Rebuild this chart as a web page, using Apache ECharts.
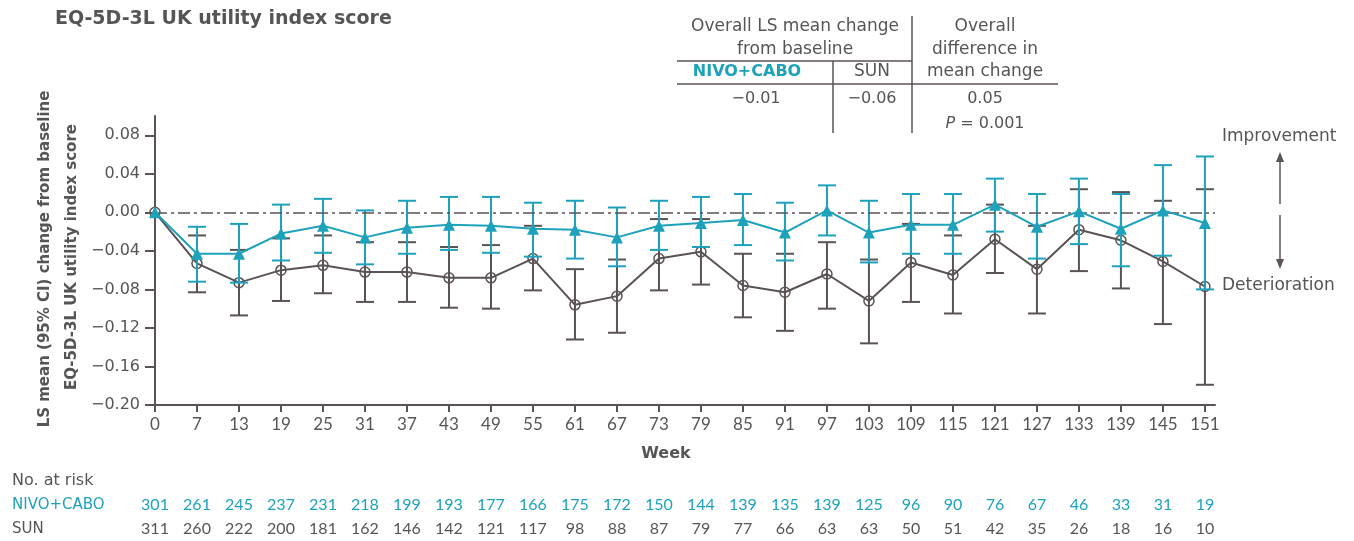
<!DOCTYPE html>
<html>
<head>
<meta charset="utf-8">
<script src="https://cdn.jsdelivr.net/npm/echarts@6/dist/echarts.min.js"></script>
<style>
html,body{margin:0;padding:0;background:#fff;}
#chart{width:1354px;height:541px;}
</style>
</head>
<body>
<div id="chart"></div>
<script>
// ---- data ----
const weeks = ['0','7','13','19','25','31','37','43','49','55','61','67','73','79','85','91','97','103','109','115','121','127','133','139','145','151'];
const nivoMean = [0,-0.043,-0.043,-0.022,-0.014,-0.026,-0.016,-0.013,-0.014,-0.017,-0.018,-0.026,-0.014,-0.011,-0.008,-0.021,0.002,-0.021,-0.013,-0.013,0.008,-0.015,0.001,-0.017,0.002,-0.011];
const nivoHigh = [0,-0.015,-0.012,0.008,0.014,0.002,0.012,0.016,0.016,0.010,0.012,0.005,0.012,0.016,0.019,0.010,0.028,0.012,0.019,0.019,0.035,0.019,0.035,0.019,0.049,0.058];
const nivoLow  = [0,-0.072,-0.073,-0.050,-0.042,-0.054,-0.043,-0.039,-0.042,-0.046,-0.048,-0.056,-0.039,-0.036,-0.034,-0.050,-0.024,-0.052,-0.043,-0.043,-0.020,-0.048,-0.033,-0.056,-0.045,-0.080];
const sunMean = [0,-0.053,-0.073,-0.060,-0.055,-0.062,-0.062,-0.068,-0.068,-0.048,-0.096,-0.087,-0.048,-0.041,-0.076,-0.083,-0.064,-0.092,-0.052,-0.065,-0.028,-0.059,-0.018,-0.029,-0.051,-0.077];
const sunHigh = [0,-0.024,-0.039,-0.027,-0.024,-0.031,-0.031,-0.036,-0.034,-0.014,-0.059,-0.049,-0.007,-0.007,-0.043,-0.043,-0.031,-0.049,-0.012,-0.024,0.008,-0.014,0.024,0.021,0.012,0.024];
const sunLow  = [0,-0.083,-0.107,-0.092,-0.084,-0.093,-0.093,-0.099,-0.100,-0.081,-0.132,-0.125,-0.081,-0.075,-0.109,-0.123,-0.100,-0.136,-0.093,-0.105,-0.063,-0.105,-0.061,-0.079,-0.116,-0.179];
const riskNivo = [301,261,245,237,231,218,199,193,177,166,175,172,150,144,139,135,139,125,96,90,76,67,46,33,31,19];
const riskSun  = [311,260,222,200,181,162,146,142,121,117,98,88,87,79,77,66,63,63,50,51,42,35,26,18,16,10];
const yTicks = [-0.20,-0.16,-0.12,-0.08,-0.04,0.00,0.04,0.08];

// ---- style ----
const TEAL = '#1ea2bc';
const GREY = '#5a5254';
const TXT = '#555555';
const WIDE = '"DejaVu Sans", Verdana, sans-serif';
const NUM = '"Liberation Sans Narrow", Lato, sans-serif';

const idx = weeks.map((w, i) => i);

function errBar(color) {
  return function (params, api) {
    const x = api.value(0), lo = api.value(1), hi = api.value(2);
    if (lo === hi) return null;
    const a = api.coord([x, lo]), b = api.coord([x, hi]);
    const h = 9;
    const st = { stroke: color, lineWidth: 2 };
    return {
      type: 'group',
      children: [
        { type: 'line', shape: { x1: a[0], y1: a[1], x2: b[0], y2: b[1] }, style: st },
        { type: 'line', shape: { x1: a[0] - h, y1: a[1], x2: a[0] + h, y2: a[1] }, style: st },
        { type: 'line', shape: { x1: b[0] - h, y1: b[1], x2: b[0] + h, y2: b[1] }, style: st }
      ]
    };
  };
}

const fmtY = v => (v < 0 ? '\u2212' : '') + Math.abs(v).toFixed(2);

const chart = echarts.init(document.getElementById('chart'));
const option = {
  animation: false,
  textStyle: { fontFamily: WIDE },
  grid: { left: 155, right: 139, top: 116, bottom: 136 },
  xAxis: [
    {
      type: 'value', min: 0, max: 25.24,
      axisLine: { onZero: false, lineStyle: { color: GREY, width: 2 } },
      axisTick: { customValues: idx, length: 7, lineStyle: { color: GREY, width: 2 } },
      axisLabel: { customValues: idx, formatter: v => weeks[v], fontSize: 17, fontFamily: NUM, color: TXT, margin: 11 },
      splitLine: { show: false },
      name: 'Week', nameLocation: 'middle', nameGap: 41,
      nameTextStyle: { fontSize: 16, fontWeight: 'bold', fontFamily: WIDE, color: TXT, padding: [0, 38, 0, 0] }
    },
    {
      type: 'value', min: 0, max: 25.24, position: 'bottom', offset: 80,
      axisLine: { show: false, onZero: false }, axisTick: { show: false }, splitLine: { show: false },
      axisLabel: { customValues: idx, formatter: v => String(riskNivo[v]), fontSize: 16, fontFamily: NUM, color: TEAL, margin: 12 }
    },
    {
      type: 'value', min: 0, max: 25.24, position: 'bottom', offset: 104,
      axisLine: { show: false, onZero: false }, axisTick: { show: false }, splitLine: { show: false },
      axisLabel: { customValues: idx, formatter: v => String(riskSun[v]), fontSize: 16, fontFamily: NUM, color: TXT, margin: 12 }
    }
  ],
  yAxis: {
    type: 'value', min: -0.2, max: 0.1,
    axisLine: { show: true, onZero: false, lineStyle: { color: GREY, width: 2 } },
    axisTick: { show: true, customValues: yTicks, length: 10, lineStyle: { color: GREY, width: 2 } },
    axisLabel: { customValues: yTicks, formatter: fmtY, fontSize: 16, fontFamily: WIDE, color: TXT, margin: 15 },
    splitLine: { show: false }
  },
  series: [
    {
      type: 'custom', name: 'SUN CI', xAxisIndex: 0,
      renderItem: errBar(GREY),
      data: sunLow.map((v, i) => [i, v, sunHigh[i]]),
      z: 2
    },
    {
      type: 'line', name: 'SUN', xAxisIndex: 0,
      data: sunMean.map((v, i) => [i, v]),
      symbol: 'circle', symbolSize: 10,
      lineStyle: { color: GREY, width: 2 },
      itemStyle: { color: 'rgba(255,255,255,0)', borderColor: GREY, borderWidth: 1.5 },
      z: 3,
      markLine: {
        silent: true, symbol: 'none', label: { show: false },
        lineStyle: { color: GREY, width: 1.5, type: [12, 4, 3, 4] },
        data: [{ yAxis: 0 }]
      }
    },
    {
      type: 'custom', name: 'NIVO+CABO CI', xAxisIndex: 0,
      renderItem: errBar(TEAL),
      data: nivoLow.map((v, i) => [i, v, nivoHigh[i]]),
      z: 4
    },
    {
      type: 'line', name: 'NIVO+CABO', xAxisIndex: 0,
      data: nivoMean.map((v, i) => [i, v]),
      symbol: 'triangle', symbolSize: 12,
      lineStyle: { color: TEAL, width: 2 },
      itemStyle: { color: TEAL },
      z: 5
    }
  ],
  graphic: [
    { type: 'text', left: 55, top: 10, style: { text: 'EQ-5D-3L UK utility index score', font: 'bold 19px ' + WIDE, fill: TXT } },
    { type: 'text', x: 45, y: 259, rotation: Math.PI / 2,
      style: { text: 'LS mean (95% CI) change from baseline', font: 'bold 15px ' + WIDE, fill: TXT, align: 'center', verticalAlign: 'middle' } },
    { type: 'text', x: 72, y: 257, rotation: Math.PI / 2,
      style: { text: 'EQ-5D-3L UK utility index score', font: 'bold 15px ' + WIDE, fill: TXT, align: 'center', verticalAlign: 'middle' } },
    // summary table lines
    { type: 'line', shape: { x1: 912, y1: 16, x2: 912, y2: 133 }, style: { stroke: GREY, lineWidth: 1.5 } },
    { type: 'line', shape: { x1: 833, y1: 61, x2: 833, y2: 133 }, style: { stroke: GREY, lineWidth: 1.5 } },
    { type: 'line', shape: { x1: 677, y1: 61, x2: 912, y2: 61 }, style: { stroke: GREY, lineWidth: 1.5 } },
    { type: 'line', shape: { x1: 677, y1: 84, x2: 1058, y2: 84 }, style: { stroke: GREY, lineWidth: 1.5 } },
    // summary table texts
    { type: 'text', x: 795, y: 27, style: { text: 'Overall LS mean change', font: '17px ' + WIDE, fill: TXT, align: 'center', verticalAlign: 'middle' } },
    { type: 'text', x: 795, y: 50, style: { text: 'from baseline', font: '17px ' + WIDE, fill: TXT, align: 'center', verticalAlign: 'middle' } },
    { type: 'text', x: 985, y: 27, style: { text: 'Overall', font: '17px ' + WIDE, fill: TXT, align: 'center', verticalAlign: 'middle' } },
    { type: 'text', x: 985, y: 50, style: { text: 'difference in', font: '17px ' + WIDE, fill: TXT, align: 'center', verticalAlign: 'middle' } },
    { type: 'text', x: 985, y: 72, style: { text: 'mean change', font: '17px ' + WIDE, fill: TXT, align: 'center', verticalAlign: 'middle' } },
    { type: 'text', x: 747, y: 72, style: { text: 'NIVO+CABO', font: 'bold 16px ' + WIDE, fill: TEAL, align: 'center', verticalAlign: 'middle' } },
    { type: 'text', x: 872, y: 72, style: { text: 'SUN', font: '17px ' + WIDE, fill: TXT, align: 'center', verticalAlign: 'middle' } },
    { type: 'text', x: 756, y: 99, style: { text: '\u22120.01', font: '16px ' + WIDE, fill: TXT, align: 'center', verticalAlign: 'middle' } },
    { type: 'text', x: 872, y: 99, style: { text: '\u22120.06', font: '16px ' + WIDE, fill: TXT, align: 'center', verticalAlign: 'middle' } },
    { type: 'text', x: 985, y: 99, style: { text: '0.05', font: '16px ' + WIDE, fill: TXT, align: 'center', verticalAlign: 'middle' } },
    { type: 'text', x: 985, y: 124, style: {
        text: '{i|P} = 0.001', font: '16px ' + WIDE, fill: TXT, align: 'center', verticalAlign: 'middle',
        rich: { i: { fontStyle: 'italic', fontSize: 16, fontFamily: WIDE, fill: TXT } } } },
    // improvement / deterioration
    { type: 'text', x: 1222, y: 137, style: { text: 'Improvement', font: '17px ' + WIDE, fill: TXT, verticalAlign: 'middle' } },
    { type: 'text', x: 1222, y: 286, style: { text: 'Deterioration', font: '17px ' + WIDE, fill: TXT, verticalAlign: 'middle' } },
    { type: 'line', shape: { x1: 1280, y1: 204, x2: 1280, y2: 160 }, style: { stroke: GREY, lineWidth: 1.5 } },
    { type: 'polygon', shape: { points: [[1280, 152], [1276, 162], [1284, 162]] }, style: { fill: GREY } },
    { type: 'line', shape: { x1: 1280, y1: 215, x2: 1280, y2: 261 }, style: { stroke: GREY, lineWidth: 1.5 } },
    { type: 'polygon', shape: { points: [[1280, 269], [1276, 259], [1284, 259]] }, style: { fill: GREY } },
    // no. at risk labels
    { type: 'text', x: 12, y: 481, style: { text: 'No. at risk', font: '16px ' + WIDE, fill: TXT, verticalAlign: 'middle' } },
    { type: 'text', x: 12, y: 505, style: { text: 'NIVO+CABO', font: '15px ' + WIDE, fill: TEAL, verticalAlign: 'middle' } },
    { type: 'text', x: 12, y: 529, style: { text: 'SUN', font: '15px ' + WIDE, fill: TXT, verticalAlign: 'middle' } }
  ]
};
chart.setOption(option);
</script>
</body>
</html>
